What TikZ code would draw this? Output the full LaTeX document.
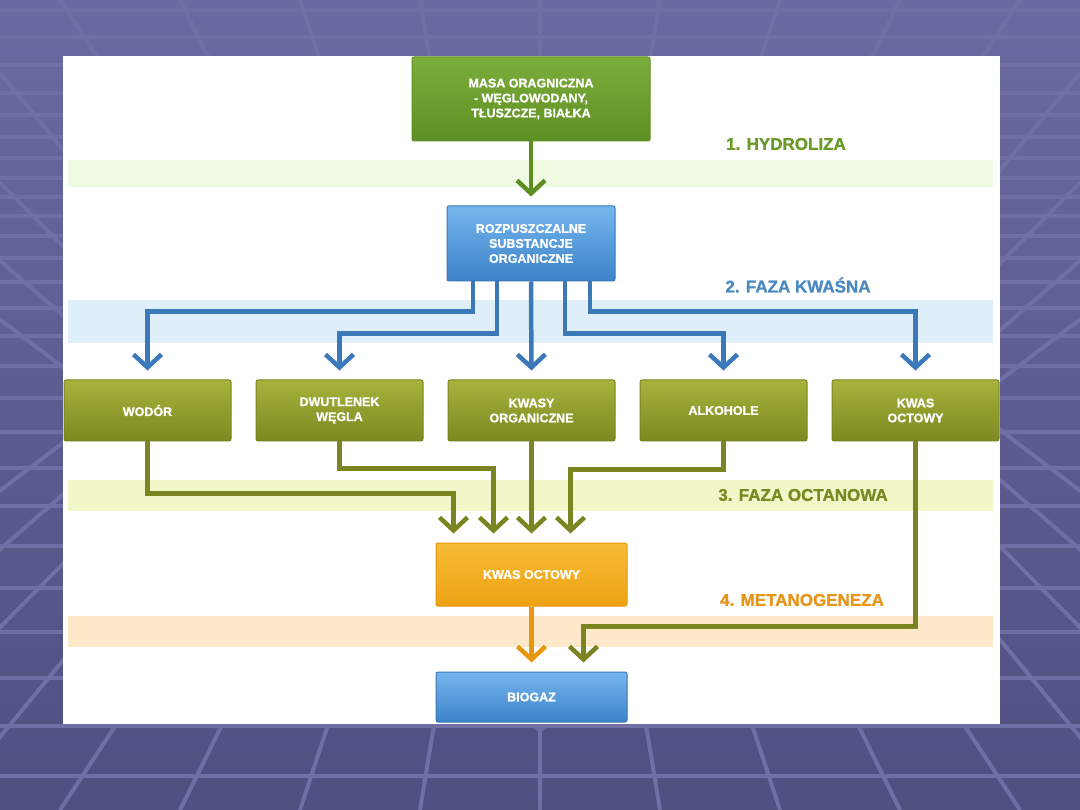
\documentclass[tikz,border=0pt]{standalone}
\usepackage{fontspec}
\setsansfont{Liberation Sans}[BoldFeatures={FakeBold=1.2}]
\usetikzlibrary{arrows.meta}
\definecolor{tloG}{HTML}{6A6AA2}
\definecolor{tloD}{HTML}{4F4F80}
\definecolor{siatka}{HTML}{6F6FA6}
\definecolor{zielJ}{HTML}{7CAE3C}
\definecolor{zielC}{HTML}{5E8E22}
\definecolor{niebJ}{HTML}{74B6EE}
\definecolor{niebC}{HTML}{3C82C8}
\definecolor{niebL}{HTML}{3A78B8}
\definecolor{oliwJ}{HTML}{A8B23C}
\definecolor{oliwC}{HTML}{7C8820}
\definecolor{oliwL}{HTML}{7A8420}
\definecolor{pomJ}{HTML}{F7BB36}
\definecolor{pomC}{HTML}{EEA214}
\definecolor{pomL}{HTML}{E8960E}
\definecolor{pasZ}{HTML}{F0F9E1}
\definecolor{pasN}{HTML}{DFEFFA}
\definecolor{pasO}{HTML}{F2F7C9}
\definecolor{pasP}{HTML}{FDE9CA}
\definecolor{etZ}{HTML}{6A9A28}
\definecolor{etN}{HTML}{4A8AC0}
\definecolor{etO}{HTML}{7A8A22}
\definecolor{etP}{HTML}{E8961A}
\begin{document}
\begin{tikzpicture}[x=1pt,y=-1pt]
	% Style
	\tikzstyle{blok}=[rounded corners=2pt,line width=1pt,inner sep=0pt,text=white,align=center,font=\sffamily\bfseries\fontsize{12.5}{15}\selectfont]
	\tikzstyle{zielony}=[blok,draw=zielC,top color=zielJ,bottom color=zielC,minimum width=238,minimum height=84]
	\tikzstyle{niebieski}=[blok,draw=niebL,top color=niebJ,bottom color=niebC,minimum width=191]
	\tikzstyle{oliwkowy}=[blok,draw=oliwL,top color=oliwJ,bottom color=oliwC,minimum width=167,minimum height=61]
	\tikzstyle{pomaranczowy}=[blok,draw=pomL,top color=pomJ,bottom color=pomC,minimum width=191,minimum height=63]
	\tikzstyle{strzalka}=[line width=4.5pt,-{Straight Barb[length=13pt,width=28pt]},shorten >=9pt]
	\tikzstyle{etykieta}=[font=\sffamily\bfseries\fontsize{17}{19}\selectfont]
	% Wymiary
	\def\Wiersz{410.5}
	\def\OdstepBlokow{192}
	% Tlo slajdu
	\useasboundingbox (0,0) rectangle (1080,810);
	\begin{scope}
	\clip (0,0) rectangle (1080,810);
	\fill[top color=tloG,bottom color=tloD] (0,0) rectangle (1080,810);
	\foreach \x in {-420,-300,...,1500}
		\draw[siatka,line width=4pt] (540,730) -- (\x,0);
	\foreach \x in {-420,-300,...,1500}
		\draw[siatka,line width=4pt] (540,80) -- (\x,810);
	\foreach \y in {10,37,65,93,115,137,158,178,197,216,236,258,282,308,336,366,398,432,468,506,546,588,632,678,726,776}
		\draw[siatka,line width=4pt] (0,\y) -- (1080,\y);
	\end{scope}
	\fill[white] (63,56) rectangle (1000,724);
	% Pasy faz
	\fill[pasZ] (68,160) rectangle (993,187);
	\fill[pasN] (68,300) rectangle (993,343);
	\fill[pasO] (68,480) rectangle (993,511);
	\fill[pasP] (68,616) rectangle (993,647);
	% Etykiety faz
	\node[etykieta,text=etZ] (faza1) at (786,144) {1. HYDROLIZA};
	\node[etykieta,text=etN] (faza2) at (798,285) {2. FAZA KWAŚNA};
	\node[etykieta,text=etO] (faza3) at (803,495) {3. FAZA OCTANOWA};
	\node[etykieta,text=etP] (faza4) at (802,600) {4. METANOGENEZA};
	% Bloki
	\node[zielony] (masa) at (531,99) {MASA ORAGNICZNA\\- WĘGLOWODANY,\\TŁUSZCZE, BIAŁKA};
	\node[niebieski,minimum width=168,minimum height=75] (roz) at (531,243.5) {ROZPUSZCZALNE\\SUBSTANCJE\\ORGANICZNE};
	\node[oliwkowy] (wodor) at (147.5,\Wiersz) {WODÓR};
	\node[oliwkowy] (dwutlenek) at ({147.5+\OdstepBlokow},\Wiersz) {DWUTLENEK\\WĘGLA};
	\node[oliwkowy] (kwasy) at ({147.5+2*\OdstepBlokow},\Wiersz) {KWASY\\ORGANICZNE};
	\node[oliwkowy] (alkohole) at ({147.5+3*\OdstepBlokow},\Wiersz) {ALKOHOLE};
	\node[oliwkowy] (kwas) at ({147.5+4*\OdstepBlokow},\Wiersz) {KWAS\\OCTOWY};
	\node[pomaranczowy] (octowy) at (531.5,574.5) {KWAS OCTOWY};
	\node[niebieski,minimum height=50] (biogaz) at (531.5,697) {BIOGAZ};
	% Strzalki
	\draw[strzalka,zielC] (masa.south) -- (roz.north);
	\draw[strzalka,niebL] ([xshift=-58pt]roz.south) -- ++(0,30) -| (wodor.north);
	\draw[strzalka,niebL] ([xshift=-34pt]roz.south) -- ++(0,52) -| (dwutlenek.north);
	\draw[strzalka,niebL] (roz.south) -- (kwasy.north);
	\draw[strzalka,niebL] ([xshift=34pt]roz.south) -- ++(0,52) -| (alkohole.north);
	\draw[strzalka,niebL] ([xshift=59pt]roz.south) -- ++(0,30) -| (kwas.north);
	\draw[strzalka,oliwL] (wodor.south) -- ++(0,52) -| ([xshift=-78pt]octowy.north);
	\draw[strzalka,oliwL] (dwutlenek.south) -- ++(0,27) -| ([xshift=-38pt]octowy.north);
	\draw[strzalka,oliwL] (kwasy.south) -- (octowy.north);
	\draw[strzalka,oliwL] (alkohole.south) -- ++(0,28) -| ([xshift=39pt]octowy.north);
	\draw[strzalka,oliwL] (kwas.south) -- ++(0,185) -| ([xshift=52pt]biogaz.north);
	\draw[strzalka,pomL] (octowy.south) -- (biogaz.north);
\end{tikzpicture}
\end{document}
